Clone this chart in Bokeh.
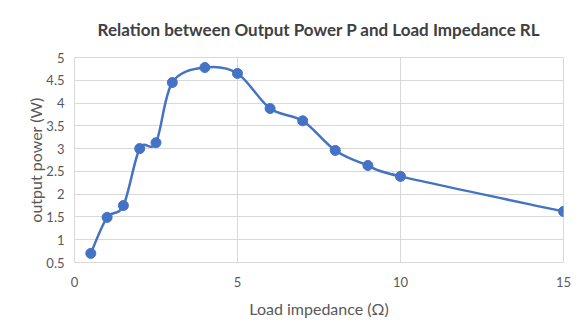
from bokeh.plotting import figure
from bokeh.models import FixedTicker
from bokeh.embed import file_html
from bokeh.resources import INLINE

# Data
impedance = [0.5, 1, 1.5, 2, 2.5, 3, 4, 5, 6, 7, 8, 9, 10, 15]
power = [0.70, 1.49, 1.75, 3.0, 3.13, 4.45, 4.78, 4.65, 3.88, 3.61, 2.96, 2.63, 2.39, 1.62]
x_ticks = [0, 5, 10, 15]
y_ticks = [0.5, 1, 1.5, 2, 2.5, 3, 3.5, 4, 4.5, 5]
y_tick_labels = ["0.5", "1", "1.5", "2", "2.5", "3", "3.5", "4", "4.5", "5"]

title = "Relation between Output Power P and Load Impedance RL"
x_label = "Load impedance (Ω)"
y_label = "output power (W)"

FONT = "Lato"
BLUE = "#4472c4"
GRID = "#d9d9d9"

p = figure(width=578, height=326, x_range=(0, 15), y_range=(0.5, 5),
           output_backend="svg", toolbar_location=None,
           min_border_left=74, min_border_right=15, min_border_top=57, min_border_bottom=64,
           title=title)

p.title.align = "center"
p.title.text_font = FONT
p.title.text_font_size = "17px"
p.title.text_font_style = "bold"
p.title.text_color = "#404040"
p.title.standoff = 31
p.title.vertical_align = "top"

p.outline_line_color = GRID
p.background_fill_color = "white"
p.border_fill_color = "white"

for ax in (p.xaxis[0], p.yaxis[0]):
    ax.axis_line_color = None
    ax.major_tick_line_color = None
    ax.minor_tick_line_color = None
    ax.major_tick_out = 0
    ax.major_tick_in = 0
    ax.minor_tick_out = 0
    ax.minor_tick_in = 0
    ax.major_label_text_font = FONT
    ax.major_label_text_font_size = "13px"
    ax.major_label_text_color = "#595959"
    ax.axis_label_text_font = FONT
    ax.axis_label_text_font_size = "16px"
    ax.axis_label_text_font_style = "normal"
    ax.axis_label_text_color = "#595959"

p.xaxis.ticker = FixedTicker(ticks=x_ticks)
p.yaxis.ticker = FixedTicker(ticks=y_ticks)
p.yaxis.major_label_overrides = {t: l for t, l in zip(y_ticks, y_tick_labels)}
p.xaxis.axis_label = x_label
p.yaxis.axis_label = y_label
p.xaxis.major_label_standoff = 14
p.yaxis.major_label_standoff = 10
p.xaxis.axis_label_standoff = 9
p.yaxis.axis_label_standoff = -2

p.xgrid.grid_line_color = GRID
p.ygrid.grid_line_color = GRID
p.xgrid.ticker = FixedTicker(ticks=x_ticks)
p.ygrid.ticker = FixedTicker(ticks=y_ticks)

# Smoothed line (Catmull-Rom style Bezier segments, as in spreadsheet smoothing)
n = len(impedance)
x0s, y0s, x1s, y1s, cx0s, cy0s, cx1s, cy1s = [], [], [], [], [], [], [], []
for i in range(n - 1):
    xp, yp = (impedance[i - 1], power[i - 1]) if i > 0 else (impedance[i], power[i])
    xa, ya = impedance[i], power[i]
    xb, yb = impedance[i + 1], power[i + 1]
    xn, yn = (impedance[i + 2], power[i + 2]) if i + 2 < n else (xb, yb)
    x0s.append(xa); y0s.append(ya); x1s.append(xb); y1s.append(yb)
    cx0s.append(xa + (xb - xp) / 6); cy0s.append(ya + (yb - yp) / 6)
    cx1s.append(xb - (xn - xa) / 6); cy1s.append(yb - (yn - ya) / 6)

p.bezier(x0=x0s, y0=y0s, x1=x1s, y1=y1s, cx0=cx0s, cy0=cy0s, cx1=cx1s, cy1=cy1s,
         line_color=BLUE, line_width=2.5)
p.scatter(impedance, power, size=10, fill_color=BLUE, line_color=BLUE)

open("out.html", "w").write(file_html(p, INLINE))
